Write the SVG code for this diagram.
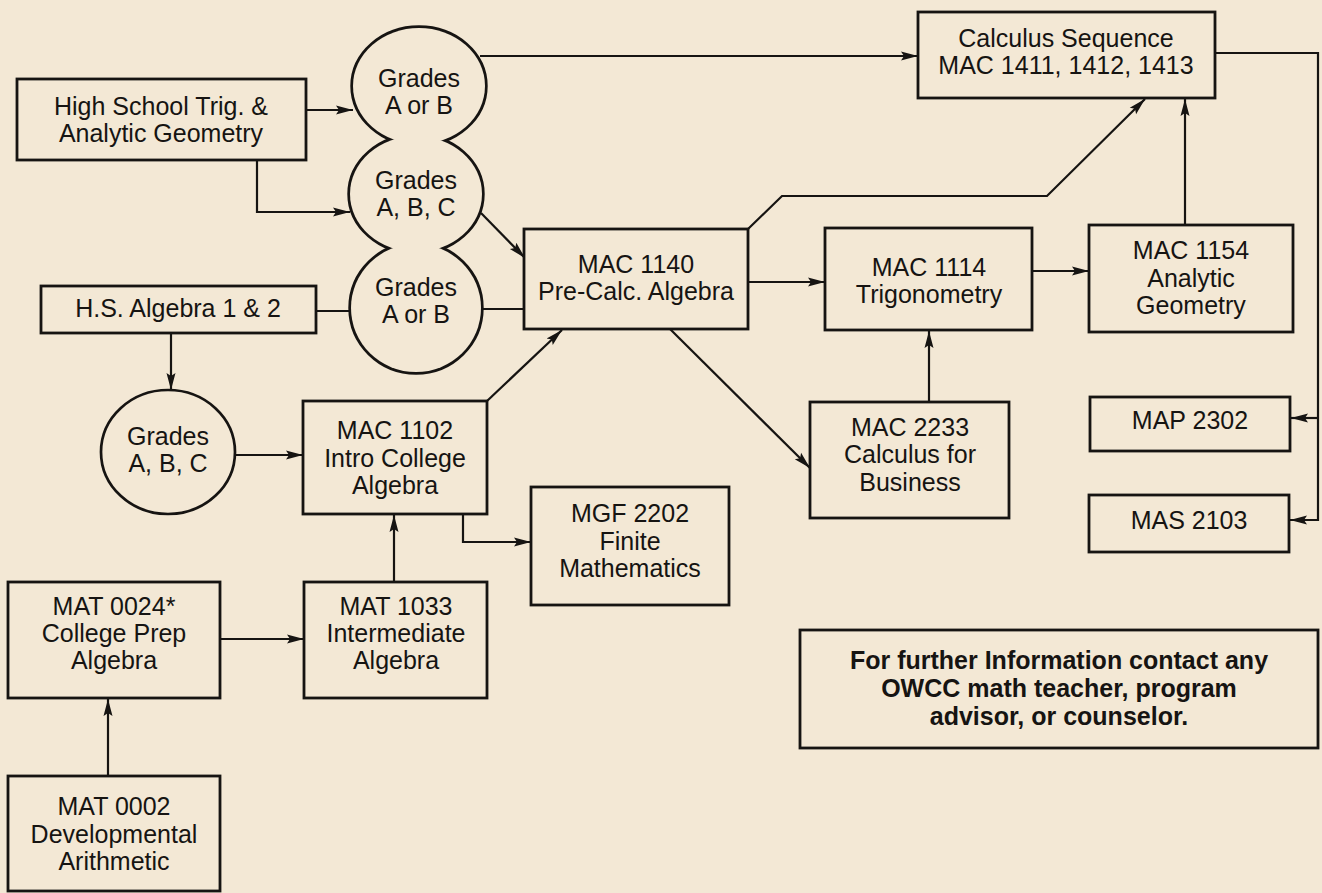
<svg xmlns="http://www.w3.org/2000/svg" width="1322" height="893" viewBox="0 0 1322 893">
<style>
  .bg { fill: #f3e8d5; }
  .box { fill: #f3e8d5; stroke: #161412; stroke-width: 2.8; }
  .t { font-family: "Liberation Sans", Arial, Helvetica, sans-serif; font-size: 25px; fill: #161412; text-anchor: middle; }
  .tb { font-family: "Liberation Sans", Arial, Helvetica, sans-serif; font-size: 25px; font-weight: bold; fill: #161412; text-anchor: middle; }
  .c { fill: none; stroke: #161412; stroke-width: 2.2; }
  .ca { fill: none; stroke: #161412; stroke-width: 2.2; marker-end: url(#ah); }
  .ring { fill: none; stroke: #161412; stroke-width: 5.4; }
  .ringfill { fill: #f3e8d5; stroke: none; }
</style>
<defs>
  <marker id="ah" markerUnits="userSpaceOnUse" markerWidth="17" markerHeight="11" refX="17" refY="5.5" orient="auto">
    <path d="M0,1 L17,5.5 L0,10 L3,5.5 Z" fill="#161412"/>
  </marker>
</defs>
<rect class="bg" x="0" y="0" width="1322" height="893"/>

<g id="connectors">
  <path class="ca" d="M306,110 L353,110"/>
  <path class="ca" d="M257,160 L257,212 L350,212"/>
  <path class="ca" d="M480,56 L918,56"/>
  <path class="ca" d="M481,213 L525,258"/>
  <path class="c" d="M316,311 L351,311"/>
  <path class="c" d="M481,309 L524,309"/>
  <path class="ca" d="M171,333 L171,390"/>
  <path class="ca" d="M235,455 L303,455"/>
  <path class="ca" d="M487,401 L562,330"/>
  <path class="ca" d="M394,582 L394,515"/>
  <path class="ca" d="M463,514 L463,542 L531,542"/>
  <path class="ca" d="M220,639 L304,639"/>
  <path class="ca" d="M108,776 L108,699"/>
  <path class="ca" d="M748,229 L782,196 L1047,196 L1145,99"/>
  <path class="ca" d="M748,282 L825,282"/>
  <path class="ca" d="M670,329 L810,468"/>
  <path class="ca" d="M929,402 L929,331"/>
  <path class="ca" d="M1032,271 L1089,271"/>
  <path class="ca" d="M1185,225 L1185,99"/>
  <path class="ca" d="M1215,53 L1318,53 L1318,520 L1290,520"/>
  <path class="ca" d="M1318,418 L1291,418"/>
</g>

<g id="grade-circles-outline">
  <ellipse class="ring" cx="419" cy="86" rx="66" ry="58"/>
  <ellipse class="ring" cx="416" cy="194" rx="66" ry="58"/>
  <ellipse class="ring" cx="416" cy="308" rx="65" ry="64"/>
  <ellipse class="ringfill" cx="419" cy="86" rx="66" ry="58"/>
  <ellipse class="ringfill" cx="416" cy="194" rx="66" ry="58"/>
  <ellipse class="ringfill" cx="416" cy="308" rx="65" ry="64"/>
</g>

<g id="grades-ab-top">
  <text class="t" x="419" y="87">Grades</text>
  <text class="t" x="419" y="114">A or B</text>
</g>
<g id="grades-abc-mid">
  <text class="t" x="416" y="189">Grades</text>
  <text class="t" x="416" y="216">A, B, C</text>
</g>
<g id="grades-ab-bottom">
  <text class="t" x="416" y="296">Grades</text>
  <text class="t" x="416" y="323">A or B</text>
</g>
<g id="grades-abc-left">
  <ellipse cx="168" cy="452" rx="67" ry="62" fill="#f3e8d5" stroke="#161412" stroke-width="2.7"/>
  <text class="t" x="168" y="445">Grades</text>
  <text class="t" x="168" y="472">A, B, C</text>
</g>

<g id="hs-trig">
  <rect class="box" x="17" y="79" width="289" height="81"/>
  <text class="t" x="161" y="115">High School Trig. &amp;</text>
  <text class="t" x="161" y="142">Analytic Geometry</text>
</g>
<g id="hs-algebra">
  <rect class="box" x="41" y="286" width="275" height="47"/>
  <text class="t" x="178" y="317">H.S. Algebra 1 &amp; 2</text>
</g>
<g id="mac1140">
  <rect class="box" x="524" y="229" width="224" height="100"/>
  <text class="t" x="636" y="273">MAC 1140</text>
  <text class="t" x="636" y="300">Pre-Calc. Algebra</text>
</g>
<g id="calculus">
  <rect class="box" x="918" y="12" width="297" height="86"/>
  <text class="t" x="1066" y="47">Calculus Sequence</text>
  <text class="t" x="1066" y="74">MAC 1411, 1412, 1413</text>
</g>
<g id="mac1114">
  <rect class="box" x="825" y="228" width="207" height="102"/>
  <text class="t" x="929" y="276">MAC 1114</text>
  <text class="t" x="929" y="303">Trigonometry</text>
</g>
<g id="mac1154">
  <rect class="box" x="1089" y="225" width="204" height="107"/>
  <text class="t" x="1191" y="259">MAC 1154</text>
  <text class="t" x="1191" y="287">Analytic</text>
  <text class="t" x="1191" y="314">Geometry</text>
</g>
<g id="mac1102">
  <rect class="box" x="303" y="401" width="184" height="113"/>
  <text class="t" x="395" y="439">MAC 1102</text>
  <text class="t" x="395" y="467">Intro College</text>
  <text class="t" x="395" y="494">Algebra</text>
</g>
<g id="mac2233">
  <rect class="box" x="810" y="402" width="199" height="116"/>
  <text class="t" x="910" y="436">MAC 2233</text>
  <text class="t" x="910" y="463">Calculus for</text>
  <text class="t" x="910" y="491">Business</text>
</g>
<g id="map2302">
  <rect class="box" x="1090" y="397" width="200" height="54"/>
  <text class="t" x="1190" y="429">MAP 2302</text>
</g>
<g id="mas2103">
  <rect class="box" x="1089" y="495" width="200" height="57"/>
  <text class="t" x="1189" y="529">MAS 2103</text>
</g>
<g id="mgf2202">
  <rect class="box" x="531" y="487" width="198" height="118"/>
  <text class="t" x="630" y="522">MGF 2202</text>
  <text class="t" x="630" y="550">Finite</text>
  <text class="t" x="630" y="577">Mathematics</text>
</g>
<g id="mat0024">
  <rect class="box" x="8" y="582" width="212" height="116"/>
  <text class="t" x="114" y="615">MAT 0024*</text>
  <text class="t" x="114" y="642">College Prep</text>
  <text class="t" x="114" y="669">Algebra</text>
</g>
<g id="mat1033">
  <rect class="box" x="304" y="582" width="183" height="116"/>
  <text class="t" x="396" y="615">MAT 1033</text>
  <text class="t" x="396" y="642">Intermediate</text>
  <text class="t" x="396" y="669">Algebra</text>
</g>
<g id="mat0002">
  <rect class="box" x="8" y="776" width="212" height="115"/>
  <text class="t" x="114" y="815">MAT 0002</text>
  <text class="t" x="114" y="843">Developmental</text>
  <text class="t" x="114" y="870">Arithmetic</text>
</g>
<g id="info">
  <rect class="box" x="800" y="630" width="518" height="118" stroke-width="3.2"/>
  <text class="tb" x="1059" y="669">For further Information contact any</text>
  <text class="tb" x="1059" y="697">OWCC math teacher, program</text>
  <text class="tb" x="1059" y="725">advisor, or counselor.</text>
</g>
</svg>
